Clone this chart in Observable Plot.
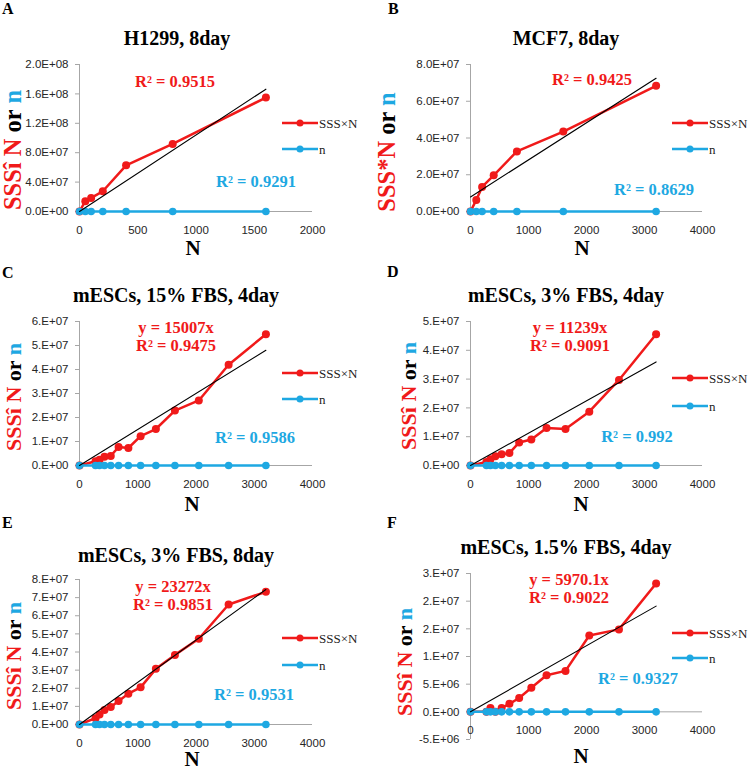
<!DOCTYPE html>
<html><head><meta charset="utf-8">
<script src="https://cdn.jsdelivr.net/npm/d3@7"></script>
<script src="https://cdn.jsdelivr.net/npm/@observablehq/plot@0.6"></script>
<style>
html,body{margin:0;padding:0;background:#fff;}
#root{position:relative;width:748px;height:771px;overflow:hidden;background:#fff;}
.panel{position:absolute;}
#overlay{position:absolute;left:0;top:0;}
</style></head><body><div id="root"></div>
<script>
// ---------- data ----------
const panelIds = ["A", "B", "C", "D", "E", "F"];
const titles = ["H1299, 8day", "MCF7, 8day", "mESCs, 15% FBS, 4day", "mESCs, 3% FBS, 4day", "mESCs, 3% FBS, 8day", "mESCs, 1.5% FBS, 4day"];

const N_A = [0, 50, 100, 200, 400, 800, 1600];
const SSS_A = [0, 1.4e7, 1.85e7, 2.75e7, 6.28e7, 9.2e7, 1.55e8];
const n_A = [0, 12, 21, 38, 70, 125, 230];

const N_B = [0, 100, 200, 400, 800, 1600, 3200];
const SSS_B = [0, 6.3e6, 1.34e7, 1.97e7, 3.27e7, 4.35e7, 6.84e7];
const n_B = [0, 9, 17, 30, 55, 95, 160];

const N_mESC = [0, 275, 344, 429, 537, 671, 839, 1049, 1311, 1638, 2048, 2560, 3200];
const SSS_C = [0, 1.8e6, 2.4e6, 3.6e6, 4.0e6, 7.7e6, 7.3e6, 1.22e7, 1.52e7, 2.29e7, 2.71e7, 4.2e7, 5.47e7];
const n_C = [0, 6, 8, 10, 12, 15, 19, 23, 29, 36, 45, 56, 70];
const SSS_D = [0, 1.2e6, 2.2e6, 3.2e6, 3.9e6, 4.3e6, 8.0e6, 9.0e6, 1.3e7, 1.27e7, 1.87e7, 2.97e7, 4.56e7];
const n_D = [0, 5, 7, 9, 11, 13, 16, 20, 25, 31, 38, 47, 58];
const SSS_E = [0, 3.5e6, 5.5e6, 8.0e6, 9.6e6, 1.3e7, 1.7e7, 2.05e7, 3.07e7, 3.84e7, 4.73e7, 6.62e7, 7.32e7];
const n_E = [0, 7, 9, 11, 14, 17, 21, 26, 32, 40, 50, 62, 77];
const SSS_F = [0, 0, 7e5, 0, 7e5, 1.45e6, 2.5e6, 4.34e6, 6.6e6, 7.4e6, 1.38e7, 1.49e7, 2.32e7];
const n_F = [0, 3, 4, 5, 6, 8, 10, 12, 15, 19, 24, 30, 37];

const trendSlope = [1.04e5, 2.02e4, 15007, 11239, 23272, 5970.1];
const trendIntercept = [0, 7.9e6, 0, 0, 0, 0];

// annotation texts
const redEq = [null, null, "y = 15007x", "y = 11239x", "y = 23272x", "y = 5970.1x"];
const redR2 = ["R² = 0.9515", "R² = 0.9425", "R² = 0.9475", "R² = 0.9091", "R² = 0.9851", "R² = 0.9022"];
const blueR2 = ["R² = 0.9291", "R² = 0.8629", "R² = 0.9586", "R² = 0.992", "R² = 0.9531", "R² = 0.9327"];
const yTitleRed = ["SSSî N", "SSS*N", "SSSî N", "SSSî N", "SSSî N", "SSSî N"];
const legendLabels = ["SSS×N", "n"];

// axis ticks and labels
const xTicks2000 = [0, 500, 1000, 1500, 2000];
const xTicks4000 = [0, 1000, 2000, 3000, 4000];
const yTicksA = [0, 4e7, 8e7, 1.2e8, 1.6e8, 2e8];
const yLabelsA = ["0.0E+00", "4.0E+07", "8.0E+07", "1.2E+08", "1.6E+08", "2.0E+08"];
const yTicksB = [0, 2e7, 4e7, 6e7, 8e7];
const yLabelsB = ["0.0E+00", "2.0E+07", "4.0E+07", "6.0E+07", "8.0E+07"];
const yTicksC = [0, 1e7, 2e7, 3e7, 4e7, 5e7, 6e7];
const yLabelsC = ["0.E+00", "1.E+07", "2.E+07", "3.E+07", "4.E+07", "5.E+07", "6.E+07"];
const yTicksD = [0, 1e7, 2e7, 3e7, 4e7, 5e7];
const yLabelsD = ["0.E+00", "1.E+07", "2.E+07", "3.E+07", "4.E+07", "5.E+07"];
const yTicksE = [0, 1e7, 2e7, 3e7, 4e7, 5e7, 6e7, 7e7, 8e7];
const yLabelsE = ["0.E+00", "1.E+07", "2.E+07", "3.E+07", "4.E+07", "5.E+07", "6.E+07", "7.E+07", "8.E+07"];
const yTicksF = [-5e6, 0, 5e6, 1e7, 1.5e7, 2e7, 2.5e7];
const yLabelsF = ["-5.E+06", "0.E+00", "5.E+06", "1.E+07", "2.E+07", "2.E+07", "3.E+07"];

// ---------- styling / layout ----------
const RED = "#f01a1a";
const BLUE = "#1ea8e2";
const AXIS = "#a6a6a6";
const TICKTXT = "#262626";
const SERIF = "'Liberation Serif', 'Times New Roman', serif";
const SANS = "'Liberation Sans', Arial, sans-serif";

const layout = [
  {left: 0, top: 0, h: 250, ml: 79, mr: 62, mt: 64, mb: 39, xMax: 2000, xTicks: xTicks2000, yDomain: [0, 2e8], yTicks: yTicksA, yLabels: yLabelsA, N: N_A, sss: SSS_A, n: n_A,
   letter: [2, 14], title: [177, 45], ylab: [13, 150, 24.5], xlab: [193, 255], leg: [282, 123, 149], red: [175, 87], blue: [256, 187]},
  {left: 374, top: 0, h: 250, ml: 96, mr: 46, mt: 64, mb: 39, xMax: 4000, xTicks: xTicks4000, yDomain: [0, 8e7], yTicks: yTicksB, yLabels: yLabelsB, N: N_B, sss: SSS_B, n: n_B,
   letter: [388, 14], title: [566, 45], ylab: [387, 152, 24.5], xlab: [582, 255], leg: [672, 123, 149], red: [592, 85], blue: [654, 195]},
  {left: 0, top: 250, h: 260, ml: 79, mr: 62, mt: 71, mb: 45, xMax: 4000, xTicks: xTicks4000, yDomain: [0, 6e7], yTicks: yTicksC, yLabels: yLabelsC, N: N_mESC, sss: SSS_C, n: n_C,
   letter: [2, 278], title: [176, 302], ylab: [14, 397, 22], xlab: [192, 511], leg: [282, 373, 399], red: [176, 333], blue: [255, 443]},
  {left: 374, top: 250, h: 260, ml: 96, mr: 46, mt: 71, mb: 45, xMax: 4000, xTicks: xTicks4000, yDomain: [0, 5e7], yTicks: yTicksD, yLabels: yLabelsD, N: N_mESC, sss: SSS_D, n: n_D,
   letter: [387, 277], title: [566, 302], ylab: [409, 396, 22], xlab: [581, 511], leg: [672, 378, 406], red: [570, 333], blue: [637, 442]},
  {left: 0, top: 510, h: 261, ml: 79, mr: 62, mt: 69, mb: 47, xMax: 4000, xTicks: xTicks4000, yDomain: [0, 8e7], yTicks: yTicksE, yLabels: yLabelsE, N: N_mESC, sss: SSS_E, n: n_E,
   letter: [2, 528], title: [176, 562], ylab: [14, 656, 22], xlab: [192, 766], leg: [282, 638, 665], red: [173, 592], blue: [254, 700]},
  {left: 374, top: 510, h: 261, ml: 96, mr: 46, mt: 63, mb: 32, xMax: 4000, xTicks: xTicks4000, yDomain: [-5e6, 2.5e7], yTicks: yTicksF, yLabels: yLabelsF, N: N_mESC, sss: SSS_F, n: n_F, xAtZero: true,
   letter: [387, 528], title: [566, 554], ylab: [405, 662, 22], xlab: [581, 763], leg: [672, 633, 658], red: [569, 585], blue: [638, 684]}
];

const root = document.getElementById("root");

layout.forEach((p, k) => {
  const sss = p.N.map((x, i) => ({N: x, v: p.sss[i]}));
  const nn = p.N.map((x, i) => ({N: x, v: p.n[i]}));
  const xEnd = d3.max(p.N);
  const trend = [0, xEnd].map(x => ({N: x, v: trendIntercept[k] + trendSlope[k] * x}));
  const marks = [
    Plot.ruleY([0], {stroke: AXIS, strokeWidth: 1}),
    Plot.ruleX([0], {stroke: AXIS, strokeWidth: 1}),
    Plot.axisY({ticks: p.yTicks, tickFormat: d => p.yLabels[p.yTicks.indexOf(d)], tickSize: 4, tickPadding: 7, stroke: AXIS, fill: TICKTXT, label: null, fontSize: 11.5})
  ];
  if (p.xAtZero) {
    marks.push(Plot.text(p.xTicks, {x: d => d, y: () => 0, dy: 14, lineAnchor: "top", text: d => String(d), fill: TICKTXT, fontSize: 11.5}));
  } else {
    marks.push(Plot.axisX({ticks: p.xTicks, tickSize: 0, tickPadding: 14, tickFormat: d => String(d), fill: TICKTXT, label: null, fontSize: 11.5}));
  }
  marks.push(
    Plot.line(sss, {x: "N", y: "v", stroke: RED, strokeWidth: 2.5}),
    Plot.dot(sss, {x: "N", y: "v", fill: RED, r: 4}),
    Plot.line(nn, {x: "N", y: "v", stroke: BLUE, strokeWidth: 2.5}),
    Plot.dot(nn, {x: "N", y: "v", fill: BLUE, r: 3.8}),
    Plot.line(trend, {x: "N", y: "v", stroke: "#000", strokeWidth: 1.1})
  );
  const chart = Plot.plot({
    width: 374, height: p.h,
    marginLeft: p.ml, marginRight: p.mr, marginTop: p.mt, marginBottom: p.mb,
    x: {domain: [0, p.xMax], axis: null},
    y: {domain: p.yDomain, axis: null},
    style: {background: "transparent", fontFamily: SANS, fontSize: "11.5px", overflow: "visible"},
    marks
  });
  const div = document.createElement("div");
  div.className = "panel";
  div.style.left = p.left + "px";
  div.style.top = p.top + "px";
  div.appendChild(chart);
  root.appendChild(div);
});

// ---------- overlay texts, legends ----------
const svg = d3.select(root).append("svg").attr("id", "overlay").attr("width", 748).attr("height", 771);
layout.forEach((p, k) => {
  svg.append("text").attr("x", p.letter[0]).attr("y", p.letter[1]).attr("font-family", SERIF).attr("font-weight", "bold").attr("font-size", 16).text(panelIds[k]);
  svg.append("text").attr("x", p.title[0]).attr("y", p.title[1]).attr("text-anchor", "middle").attr("font-family", SERIF).attr("font-weight", "bold").attr("font-size", 20).text(titles[k]);
  const yl = svg.append("text").attr("transform", `translate(${p.ylab[0]},${p.ylab[1]}) rotate(-90)`).attr("dy", "0.33em")
    .attr("text-anchor", "middle").attr("font-family", SERIF).attr("font-weight", "bold").attr("font-size", p.ylab[2]);
  yl.append("tspan").attr("fill", RED).text(yTitleRed[k]);
  yl.append("tspan").attr("fill", "#000").text(" or ");
  yl.append("tspan").attr("fill", BLUE).text("n");
  svg.append("text").attr("x", p.xlab[0]).attr("y", p.xlab[1]).attr("text-anchor", "middle").attr("font-family", SERIF).attr("font-weight", "bold").attr("font-size", 21).text("N");
  // legend
  [[RED, p.leg[1], legendLabels[0]], [BLUE, p.leg[2], legendLabels[1]]].forEach(([c, y, t]) => {
    svg.append("line").attr("x1", p.leg[0]).attr("x2", p.leg[0] + 36).attr("y1", y).attr("y2", y).attr("stroke", c).attr("stroke-width", 2.5);
    svg.append("circle").attr("cx", p.leg[0] + 18).attr("cy", y).attr("r", 3.5).attr("fill", c);
    svg.append("text").attr("x", p.leg[0] + 37).attr("y", y).attr("dy", "0.35em").attr("font-family", SERIF).attr("font-size", 13).attr("fill", "#222").text(t);
  });
  // annotations
  const ann = (x, y, t, c) => svg.append("text").attr("x", x).attr("y", y).attr("text-anchor", "middle").attr("font-family", SERIF).attr("font-weight", "bold").attr("font-size", 16.5).attr("fill", c).text(t);
  if (redEq[k]) {
    ann(p.red[0], p.red[1], redEq[k], RED);
    ann(p.red[0], p.red[1] + 18, redR2[k], RED);
  } else {
    ann(p.red[0], p.red[1], redR2[k], RED);
  }
  ann(p.blue[0], p.blue[1], blueR2[k], BLUE);
});
</script></body></html>
